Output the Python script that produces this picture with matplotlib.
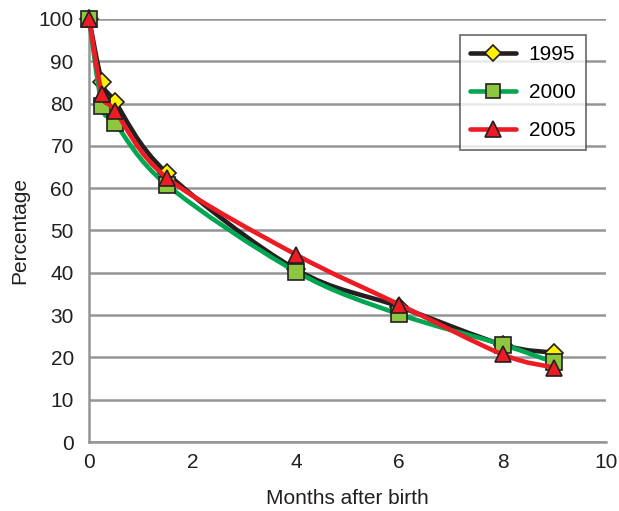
import matplotlib
matplotlib.use("Agg")
import matplotlib.pyplot as plt
from matplotlib.path import Path
from matplotlib.patches import PathPatch
from matplotlib.lines import Line2D

plt.rcParams['font.family'] = ['Liberation Sans', 'DejaVu Sans']

months = [0, 0.25, 0.5, 1.5, 4, 6, 8, 9]
pct_1995 = [100, 85.1, 80.4, 63.6, 40.8, 32.0, 23.0, 21.1]
pct_2000 = [100, 79.5, 75.4, 60.8, 40.3, 30.2, 23.0, 18.8]
pct_2005 = [100, 82.2, 78.3, 62.5, 44.3, 32.5, 20.7, 17.6]
years = ["1995", "2000", "2005"]

line_colors = ["#231f20", "#00a651", "#ed1c24"]
marker_faces = ["#fff200", "#8dc63f", "#ed1c24"]
marker_shapes = ["D", "s", "^"]
marker_sizes = [9, 11, 12]


def smooth_path(xs, ys):
    # Excel-style smoothed line: cubic Bezier segments, tangent = (next - prev) / 6
    pts = list(zip(xs, ys))
    n = len(pts)
    verts = [pts[0]]
    codes = [Path.MOVETO]
    for i in range(n - 1):
        p0 = pts[i - 1] if i > 0 else pts[i]
        p1 = pts[i]
        p2 = pts[i + 1]
        p3 = pts[i + 2] if i + 2 < n else pts[i + 1]
        c1 = (p1[0] + (p2[0] - p0[0]) / 6, p1[1] + (p2[1] - p0[1]) / 6)
        c2 = (p2[0] - (p3[0] - p1[0]) / 6, p2[1] - (p3[1] - p1[1]) / 6)
        verts += [c1, c2, p2]
        codes += [Path.CURVE4] * 3
    return Path(verts, codes)


fig = plt.figure(figsize=(6.19, 5.11), dpi=100)
ax = fig.add_axes([0.144, 0.135, 0.835, 0.828])

series = [pct_1995, pct_2000, pct_2005]
handles = []
for k, vals in enumerate(series):
    patch = PathPatch(smooth_path(months, vals), facecolor="none",
                      edgecolor=line_colors[k], lw=3.3, capstyle="round",
                      joinstyle="round", zorder=3 + k, clip_on=False)
    ax.add_patch(patch)
    ax.plot(months, vals, linestyle="none", marker=marker_shapes[k],
            markersize=marker_sizes[k], markerfacecolor=marker_faces[k],
            markeredgecolor="#231f20", markeredgewidth=1.2, zorder=3.5 + k,
            clip_on=False)
    handles.append(Line2D([], [], color=line_colors[k], lw=3.3,
                          solid_capstyle="round", marker=marker_shapes[k],
                          markersize=marker_sizes[k] - 1,
                          markerfacecolor=marker_faces[k],
                          markeredgecolor="#231f20", markeredgewidth=1.2))

ax.set_xlim(0, 10)
ax.set_ylim(0, 100)
ax.set_xticks(range(0, 11, 2))
ax.set_yticks(range(0, 101, 10))
ax.yaxis.grid(True, color="#939598", lw=1.8)
ax.set_axisbelow(True)
ax.tick_params(length=0, labelsize=15, colors="#231f20")
ax.tick_params(axis="y", pad=11)
ax.tick_params(axis="x", pad=8)
for s in ["top", "right"]:
    ax.spines[s].set_visible(False)
for s in ["left", "bottom"]:
    ax.spines[s].set_color("#939598")
    ax.spines[s].set_linewidth(1.8)

ax.set_xlabel("Months after birth", fontsize=15, color="#231f20", labelpad=12)
ax.set_ylabel("Percentage", fontsize=15, color="#231f20", labelpad=7)

leg = ax.legend(handles, years, loc="upper right", bbox_to_anchor=(0.961, 0.962),
                borderaxespad=0, fontsize=15, frameon=True, fancybox=False,
                handlelength=2.2, labelspacing=0.9, borderpad=0.5,
                handletextpad=0.6)
leg.get_frame().set_edgecolor("#414042")
leg.get_frame().set_linewidth(1.2)
leg.set_zorder(10)

fig.savefig("out.png", dpi=100)
